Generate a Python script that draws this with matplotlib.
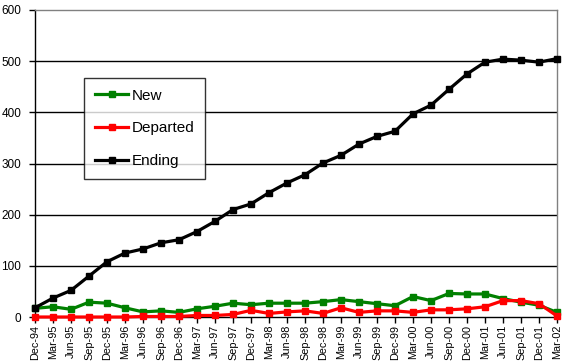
import matplotlib
matplotlib.use('Agg')
import matplotlib.pyplot as plt
import numpy as np

# quarterly categories, Dec-94 .. Mar-02
quarters = ['Dec-94', 'Mar-95', 'Jun-95', 'Sep-95', 'Dec-95', 'Mar-96', 'Jun-96', 'Sep-96',
            'Dec-96', 'Mar-97', 'Jun-97', 'Sep-97', 'Dec-97', 'Mar-98', 'Jun-98', 'Sep-98',
            'Dec-98', 'Mar-99', 'Jun-99', 'Sep-99', 'Dec-99', 'Mar-00', 'Jun-00', 'Sep-00',
            'Dec-00', 'Mar-01', 'Jun-01', 'Sep-01', 'Dec-01', 'Mar-02']

new = [17, 20, 15, 29, 27, 18, 10, 12, 9, 16, 21, 27, 24, 27, 27, 27,
       30, 34, 30, 26, 22, 40, 32, 46, 45, 45, 36, 29, 23, 9]
departed = [0, 0, 0, 0, 0, 0, 1, 1, 1, 3, 3, 5, 13, 7, 10, 12,
            7, 18, 9, 12, 12, 9, 14, 14, 16, 20, 32, 32, 26, 2]
ending = [18, 37, 52, 80, 108, 125, 133, 145, 151, 167, 187, 210, 221, 243, 262, 278,
          301, 316, 338, 353, 363, 397, 414, 445, 475, 498, 504, 502, 498, 505]

plt.rcParams['font.family'] = ['Liberation Sans', 'DejaVu Sans']

fig = plt.figure(figsize=(5.66, 3.63), dpi=100)
ax = fig.add_axes([35/566, 1-317/363, 522/566, 307/363])

x = np.arange(len(quarters))
style = dict(lw=2.3, marker='s', ms=5, clip_on=False)
ax.plot(x, new, color='#008000', label='New', zorder=3, **style)
ax.plot(x, departed, color='#ff0000', label='Departed', zorder=4, **style)
ax.plot(x, ending, color='black', label='Ending', zorder=5, **style)

ax.set_xlim(0, len(quarters) - 1)
ax.set_ylim(0, 600)
ax.set_yticks(range(0, 601, 100))
ax.set_xticks(x)
ax.set_xticklabels(quarters, rotation=90, fontsize=7.8)
ax.tick_params(axis='y', labelsize=8.5, length=4, width=1, pad=6)
ax.tick_params(axis='x', length=4, width=1, pad=1.5)

for v in range(100, 600, 100):
    ax.axhline(v, color='black', lw=1, zorder=1)

ax.spines['top'].set_color('#808080')
ax.spines['right'].set_color('#808080')
ax.spines['left'].set_color('black')
ax.spines['bottom'].set_color('black')
for s in ax.spines.values():
    s.set_linewidth(1)

leg = ax.legend(loc='upper left', bbox_to_anchor=((84-35)/522, (317-78)/307),
                fontsize=11, frameon=True, fancybox=False, edgecolor='black',
                borderpad=0.7, labelspacing=1.23, handlelength=2.2, handletextpad=0.2,
                borderaxespad=0)
leg.get_frame().set_linewidth(1)
leg.set_zorder(10)

plt.savefig('out.png', dpi=100)
